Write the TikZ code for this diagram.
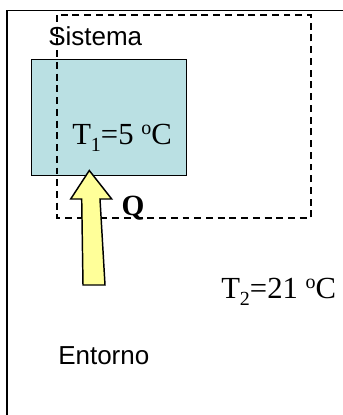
\documentclass[tikz,border=0pt]{standalone}
\usepackage{fontspec}
\setmainfont{Liberation Serif}
\newfontfamily\labelsans{Liberation Sans}
\definecolor{boxcyan}{HTML}{BAE0E3}
\definecolor{heatyellow}{HTML}{FFFF99}
\newcommand{\lowdigit}[1]{\raisebox{-0.22em}{\fontsize{15pt}{16pt}\selectfont #1}}
\newcommand{\dego}{\raisebox{0.33em}{\fontsize{15pt}{16pt}\selectfont o}}
\begin{document}
\begin{tikzpicture}[x=0.75pt,y=-0.75pt,
  frame/.style={line width=1.1pt,black},
  sysline/.style={line width=1.1pt,black,dash pattern=on 5.2pt off 3.6pt},
  body/.style={draw=black,line width=1.1pt,fill=boxcyan},
  heat/.style={draw=black,line width=1.1pt,fill=heatyellow,line join=miter},
  sanslabel/.style={font=\labelsans\fontsize{19.5pt}{22pt}\selectfont,inner sep=0pt},
  serlabel/.style={font=\fontsize{23pt}{26pt}\selectfont,inner sep=0pt}]
\useasboundingbox (0,0) rectangle (343,415);
% surroundings frame (extends past the picture)
\draw[frame] (7,415) -- (7,10.5) -- (343,10.5);
% body (cyan box)
\node[body,minimum width=155*0.75pt,minimum height=116*0.75pt,inner sep=0pt,anchor=north west] (cuerpo) at (31,59) {};
% system boundary
\draw[sysline] (57,15) rectangle (311,218);
% labels
\node[sanslabel,anchor=west] (sistema) at (48,36) {Sistema};
\node[serlabel,anchor=west] (t1) at (72,138) {T\lowdigit{1}=5 \dego C};
\node[serlabel,font=\bfseries\fontsize{22pt}{26pt}\selectfont] (q) at (133,208) {Q};
\node[serlabel,anchor=west] (t2) at (221,292) {T\lowdigit{2}=21 \dego C};
\node[sanslabel,anchor=west] (entorno) at (58,356) {Entorno};
% heat arrow
\coordinate (tip) at (89.3,170.5);
\draw[heat] (tip) -- (111.7,199) -- (100,199) -- (105,285) -- (83,285) -- (81.7,199) -- (70.7,199) -- cycle;
\end{tikzpicture}
\end{document}
